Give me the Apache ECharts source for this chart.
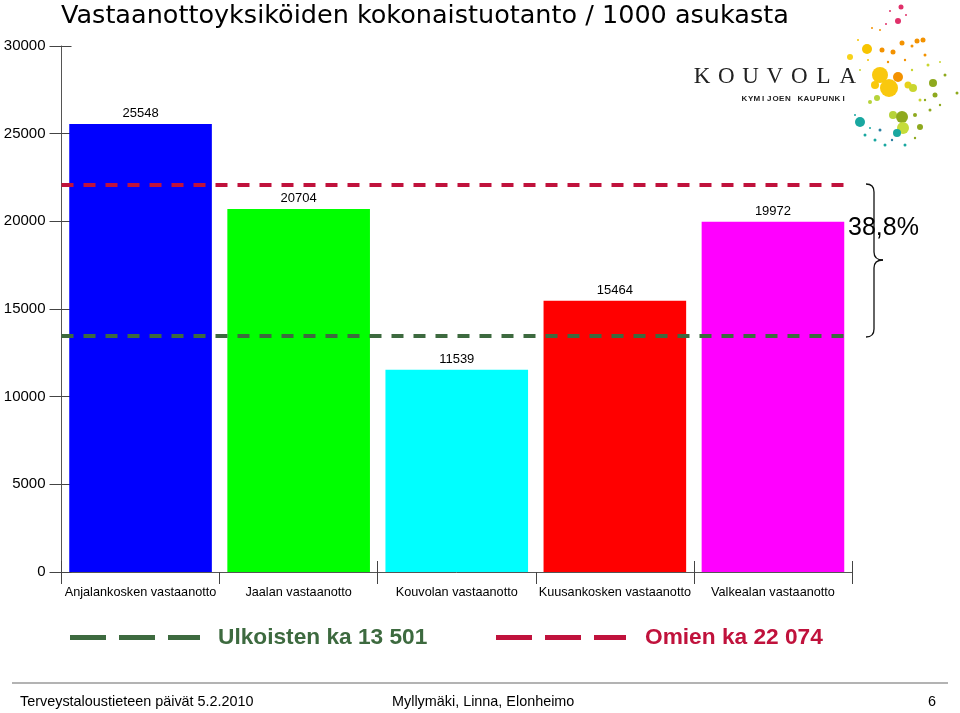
<!DOCTYPE html>
<html>
<head>
<meta charset="utf-8">
<script src="https://cdn.jsdelivr.net/npm/echarts@6/dist/echarts.min.js"></script>
<style>html,body{margin:0;padding:0;background:#fff;}#c{width:960px;height:713px;}</style>
</head>
<body>
<div id="c"></div>
<script>
// ---- data ----
var titleText = 'Vastaanottoyksiköiden kokonaistuotanto / 1000 asukasta';
var categories = ['Anjalankosken vastaanotto', 'Jaalan vastaanotto', 'Kouvolan vastaanotto', 'Kuusankosken vastaanotto', 'Valkealan vastaanotto'];
var values = [25548, 20704, 11539, 15464, 19972];
var barColors = ['#0000ff', '#00ff00', '#00ffff', '#ff0000', '#ff00ff'];
var yTicks = [0, 5000, 10000, 15000, 20000, 25000, 30000];
var avgNames = ['Ulkoisten ka 13 501', 'Omien ka 22 074'];
var avgValues = [13501, 22074];
var avgColors = ['#3d6a3f', '#c0123c'];
var diffLabel = '38,8%';
var footer = ['Terveystaloustieteen päivät 5.2.2010', 'Myllymäki, Linna, Elonheimo', '6'];
var logoWord = 'KOUVOLA';
var logoSub = 'KYMIJOEN KAUPUNKI';

// ---- decoration: logo dots ----
var dots = [
  [901,7,2.5,'#e0306a'],[898,21,3,'#e0306a'],[890,11,1,'#e0306a'],[906,15,1,'#e0306a'],[886,24,1,'#e0306a'],
  [867,49,5,'#f7c400'],[882,50,2.5,'#f39200'],[893,52,2.5,'#f39200'],[902,43,2.5,'#f39200'],[917,41,2.5,'#f39200'],
  [923,40,2.5,'#f39200'],[912,46,1.5,'#f39200'],[880,30,1,'#f39200'],[872,28,1,'#f39200'],[850,57,3,'#f7d21a'],
  [858,40,1,'#f7c400'],[925,55,1.5,'#f39200'],[905,60,1.2,'#f39200'],[888,62,1.2,'#f39200'],
  [880,75,8,'#f9c80e'],[889,88,9,'#f9c80e'],[898,77,5,'#f39200'],[908,85,3.5,'#e8d21a'],[913,88,4,'#c9d630'],[875,85,4,'#f9c80e'],
  [933,83,4,'#8ea91e'],[935,95,2.5,'#8ea91e'],[945,75,1.5,'#8ea91e'],[957,93,1.5,'#8ea91e'],
  [877,98,3,'#b6d33a'],[870,102,2,'#b6d33a'],[893,115,4,'#b6d33a'],[902,117,6,'#8ea91e'],[903,128,6,'#c5dc3a'],
  [920,127,3,'#8ea91e'],[915,115,2,'#8ea91e'],[930,110,1.5,'#8ea91e'],[925,100,1.2,'#8ea91e'],
  [860,122,5,'#19a7a0'],[897,133,4,'#19a7a0'],[865,135,1.5,'#19a7a0'],[875,140,1.5,'#19a7a0'],[885,145,1.5,'#19a7a0'],
  [870,128,1,'#19a7a0'],[855,115,1,'#19a7a0'],[905,145,1.5,'#19a7a0'],[880,130,1.5,'#2a7fa0'],[892,140,1.2,'#2a7fa0'],
  [860,70,1,'#c9d630'],[928,65,1.5,'#c9d630'],[940,62,1,'#c9d630'],[868,60,1,'#f7c400'],[920,100,1.5,'#c9d630'],
  [912,70,1.2,'#c9d630'],[940,105,1.2,'#8ea91e'],[915,138,1.2,'#8ea91e']
];

var graphics = [];
dots.forEach(function (d) {
  graphics.push({ type: 'circle', shape: { cx: d[0], cy: d[1], r: d[2] }, style: { fill: d[3] }, silent: true });
});
for (var i = 0; i < logoWord.length; i++) {
  graphics.push({ type: 'text', x: 702 + i * 24.3, y: 77, style: { text: logoWord[i], font: '23px "Liberation Serif", serif', fill: '#222', align: 'center', verticalAlign: 'middle' } });
}
for (var j = 0; j < logoSub.length; j++) {
  graphics.push({ type: 'text', x: 744.5 + j * 6.2, y: 99, style: { text: logoSub[j], font: '600 8px "Liberation Sans", Arial, sans-serif', fill: '#222', align: 'center', verticalAlign: 'middle' } });
}
// brace and percentage
var braceStyle = { fill: null, stroke: '#111', lineWidth: 1.3 };
graphics.push({ type: 'bezierCurve', shape: { x1: 866, y1: 184, cpx1: 874, cpy1: 184, x2: 874, y2: 192 }, style: braceStyle });
graphics.push({ type: 'line', shape: { x1: 874, y1: 192, x2: 874, y2: 252 }, style: braceStyle });
graphics.push({ type: 'bezierCurve', shape: { x1: 874, y1: 252, cpx1: 874, cpy1: 260, x2: 883, y2: 260 }, style: braceStyle });
graphics.push({ type: 'bezierCurve', shape: { x1: 883, y1: 260, cpx1: 874, cpy1: 260, x2: 874, y2: 268 }, style: braceStyle });
graphics.push({ type: 'line', shape: { x1: 874, y1: 268, x2: 874, y2: 329 }, style: braceStyle });
graphics.push({ type: 'bezierCurve', shape: { x1: 874, y1: 329, cpx1: 874, cpy1: 337, x2: 866, y2: 337 }, style: braceStyle });
graphics.push({ type: 'text', x: 848, y: 228, z: 10, style: { text: diffLabel, font: '25px "Liberation Sans", Arial, sans-serif', fill: '#000', verticalAlign: 'middle' } });
// footer
graphics.push({ type: 'line', shape: { x1: 12, y1: 683, x2: 948, y2: 683 }, style: { stroke: '#9a9a9a', lineWidth: 1.5 } });
graphics.push({ type: 'text', x: 20, y: 702, style: { text: footer[0], font: '14.4px "Liberation Sans", Arial, sans-serif', fill: '#000', verticalAlign: 'middle' } });
graphics.push({ type: 'text', x: 392, y: 702, style: { text: footer[1], font: '14.4px "Liberation Sans", Arial, sans-serif', fill: '#000', verticalAlign: 'middle' } });
graphics.push({ type: 'text', x: 932, y: 702, style: { text: footer[2], font: '14.4px "Liberation Sans", Arial, sans-serif', fill: '#000', align: 'center', verticalAlign: 'middle' } });

var dashIcon = 'path://M0,0h36v5h-36z M49,0h36v5h-36z M98,0h32v5h-32z';

var chart = echarts.init(document.getElementById('c'), null, { renderer: 'canvas' });
chart.setOption({
  animation: false,
  backgroundColor: '#fff',
  title: {
    text: titleText, left: 61, top: 3, padding: 0,
    textStyle: { fontFamily: '"DejaVu Sans", Verdana, sans-serif', fontSize: 25.5, fontWeight: 'normal', color: '#000' }
  },
  grid: { left: 61.5, right: 108, top: 46, bottom: 141, containLabel: false },
  legend: [
    {
      left: 70, top: 626, padding: 0, itemWidth: 130, itemHeight: 5, selectedMode: false,
      data: [{ name: avgNames[0], icon: dashIcon, itemStyle: { color: avgColors[0] } }],
      textStyle: { color: avgColors[0], fontSize: 22.7, fontWeight: 'bold', fontFamily: '"Liberation Sans", Arial, sans-serif', padding: [0, 0, 0, 13] }
    },
    {
      left: 496, top: 626, padding: 0, itemWidth: 130, itemHeight: 5, selectedMode: false,
      data: [{ name: avgNames[1], icon: dashIcon, itemStyle: { color: avgColors[1] } }],
      textStyle: { color: avgColors[1], fontSize: 22.7, fontWeight: 'bold', fontFamily: '"Liberation Sans", Arial, sans-serif', padding: [0, 0, 0, 14] }
    }
  ],
  xAxis: [
    {
      type: 'category', data: categories, boundaryGap: true,
      axisLine: { show: true, lineStyle: { color: '#555', width: 1 } },
      axisTick: { show: true, length: 12, lineStyle: { color: '#444' } },
      axisLabel: { interval: 0, margin: 14, fontSize: 12.7, color: '#000', fontFamily: '"Liberation Sans", Arial, sans-serif' },
      splitLine: { show: false }
    },
    {
      type: 'category', data: categories, boundaryGap: true, position: 'bottom',
      axisLine: { show: false },
      axisTick: { show: true, inside: true, length: 11, lineStyle: { color: '#444' } },
      axisLabel: { show: false }, splitLine: { show: false }
    }
  ],
  yAxis: [
    {
      type: 'value', min: 0, max: 30000, interval: 5000,
      axisLine: { show: true, lineStyle: { color: '#555', width: 1 } },
      axisTick: { show: true, length: 12, lineStyle: { color: '#444' } },
      axisLabel: { margin: 16, fontSize: 15, color: '#000', fontFamily: '"Liberation Sans", Arial, sans-serif', formatter: function (v) { return String(v); } },
      splitLine: { show: false }
    },
    {
      type: 'value', min: 0, max: 30000, interval: 5000, position: 'left',
      axisLine: { show: false },
      axisTick: { show: true, inside: true, length: 10, lineStyle: { color: '#444' } },
      axisLabel: { show: false }, splitLine: { show: false }
    }
  ],
  series: [
    {
      type: 'bar', xAxisIndex: 0, yAxisIndex: 0, barCategoryGap: '9.8%', z: 3,
      data: values.map(function (v, k) { return { value: v, itemStyle: { color: barColors[k] } }; }),
      label: { show: true, position: 'top', distance: 4, fontSize: 13, color: '#000', fontFamily: '"Liberation Sans", Arial, sans-serif' }
    },
    {
      name: avgNames[0], type: 'line', data: [], color: avgColors[0], z: 5,
      markLine: {
        silent: true, symbol: 'none', label: { show: false },
        lineStyle: { color: avgColors[0], width: 4, type: [12, 10] },
        data: [{ yAxis: avgValues[0] }]
      }
    },
    {
      name: avgNames[1], type: 'line', data: [], color: avgColors[1], z: 5,
      markLine: {
        silent: true, symbol: 'none', label: { show: false },
        lineStyle: { color: avgColors[1], width: 4, type: [12, 10] },
        data: [{ yAxis: avgValues[1] }]
      }
    }
  ],
  graphic: graphics
});
</script>
</body>
</html>
